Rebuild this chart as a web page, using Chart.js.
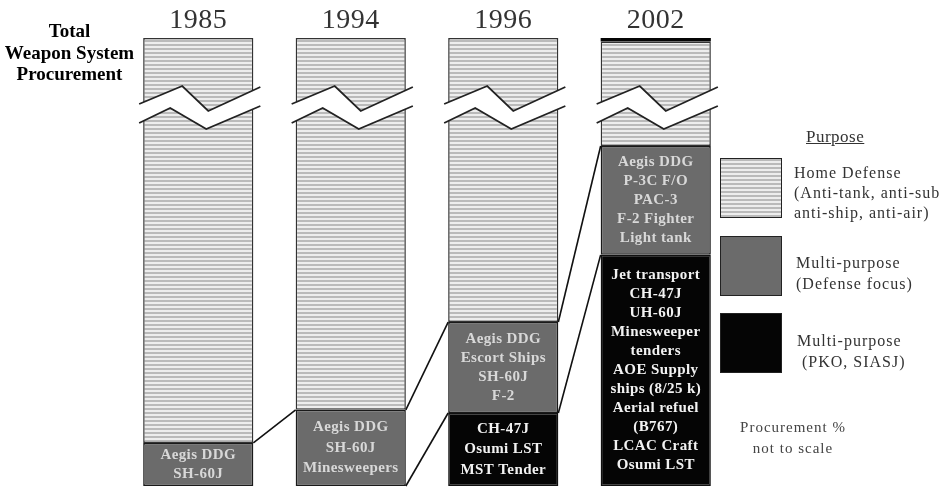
<!DOCTYPE html>
<html><head><meta charset="utf-8">
<script src="https://cdn.jsdelivr.net/npm/chart.js@4"></script>
<style>
html,body{margin:0;padding:0;background:#fff;}
#wrap{position:relative;width:944px;height:490px;overflow:hidden;background:#fff;}
#c{position:absolute;left:0;top:0;}
.t{position:absolute;font-family:"Liberation Serif","Times New Roman",serif;white-space:nowrap;color:#333;}
.box{position:absolute;left:720px;width:60px;height:58px;border:1.5px solid #222;}
</style></head>
<body>
<div id="wrap">
<canvas id="c" width="944" height="490"></canvas>
<div class="t" style="left:0;top:20px;width:139px;text-align:center;font-weight:bold;font-size:19px;line-height:21.5px;color:#000;">Total<br>Weapon System<br>Procurement</div>
<div class="t" style="left:806px;top:127px;font-size:17px;letter-spacing:0.5px;line-height:19px;text-decoration:underline;">Purpose</div>
<div class="box" style="top:158px;background:repeating-linear-gradient(to bottom,#bababa 0px,#bababa 2px,#ededed 2px,#ededed 4px);"></div>
<div class="box" style="top:236px;background:#6b6b6b;"></div>
<div class="box" style="top:313px;background:#050505;"></div>
<div class="t" style="left:794px;top:163px;font-size:16px;letter-spacing:1px;line-height:20px;">Home Defense<br>(Anti-tank, anti-sub<br>anti-ship, anti-air)</div>
<div class="t" style="left:796px;top:252px;font-size:16px;letter-spacing:1px;line-height:21px;">Multi-purpose<br>(Defense focus)</div>
<div class="t" style="left:797px;top:330px;font-size:16px;letter-spacing:1px;line-height:21px;">Multi-purpose<br>&nbsp;(PKO, SIASJ)</div>
<div class="t" style="left:727px;top:417px;width:132px;text-align:center;font-size:15px;letter-spacing:1px;line-height:21px;color:#444;">Procurement %<br>not to scale</div>
</div>
<script>
const categories = ['1985', '1994', '1996', '2002'];
const pkoShare = [0, 0, 16.3, 51.6];
const defenseShare = [9.6, 17.0, 20.3, 24.3];
const homeShare = [90.4, 83.0, 63.4, 23.3];
const topBand = [0, 0, 0, 0.9];
const defenseLabels = [
  ['Aegis DDG', 'SH-60J'],
  ['Aegis DDG', 'SH-60J', 'Minesweepers'],
  ['Aegis DDG', 'Escort Ships', 'SH-60J', 'F-2'],
  ['Aegis DDG', 'P-3C F/O', 'PAC-3', 'F-2 Fighter', 'Light tank']
];
const pkoLabels = [
  [],
  [],
  ['CH-47J', 'Osumi LST', 'MST Tender'],
  ['Jet transport', 'CH-47J', 'UH-60J', 'Minesweeper', 'tenders', 'AOE Supply', 'ships (8/25 k)', 'Aerial refuel', '(B767)', 'LCAC Craft', 'Osumi LST']
];

const pc = document.createElement('canvas');
pc.width = 4; pc.height = 4;
const pctx = pc.getContext('2d');
pctx.fillStyle = '#ededed'; pctx.fillRect(0, 0, 4, 4);
pctx.fillStyle = '#bababa'; pctx.fillRect(0, 0, 4, 2);
const stripe = pctx.createPattern(pc, 'repeat');

const serif = '"Liberation Serif","Times New Roman",serif';

const decor = {
  id: 'decor',
  afterDatasetsDraw(chart) {
    const ctx = chart.ctx;
    const ys = chart.scales.y;
    const ca = chart.chartArea;
    const bars = chart.getDatasetMeta(0).data.map(el => {
      const p = el.getProps(['x', 'width'], true);
      return {l: p.x - p.width / 2, r: p.x + p.width / 2, x: p.x, w: p.width};
    });
    // connecting lines between cumulative levels
    ctx.save();
    ctx.strokeStyle = '#111';
    ctx.lineWidth = 1.6;
    const levels = [pkoShare, pkoShare.map((v, i) => v + defenseShare[i])];
    levels.forEach(cum => {
      for (let i = 0; i < bars.length - 1; i++) {
        if (cum[i] === 0 && cum[i + 1] === 0) continue;
        ctx.beginPath();
        ctx.moveTo(bars[i].r, ys.getPixelForValue(cum[i]));
        ctx.lineTo(bars[i + 1].l, ys.getPixelForValue(cum[i + 1]));
        ctx.stroke();
      }
    });
    ctx.restore();

    // segment labels
    const drawLabels = (dsIndex, labels, color) => {
      chart.getDatasetMeta(dsIndex).data.forEach((el, i) => {
        const lines = labels[i];
        if (!lines.length) return;
        const p = el.getProps(['x', 'y', 'base'], true);
        const cy = (p.y + p.base) / 2;
        const lh = lines.length > 3 ? 19 : (lines.length === 3 ? 20.5 : 19.5);
        ctx.save();
        ctx.fillStyle = color;
        ctx.font = 'bold 15px ' + serif;
        if ('letterSpacing' in ctx) ctx.letterSpacing = '0.4px';
        ctx.textAlign = 'center';
        ctx.textBaseline = 'middle';
        lines.forEach((t, k) => {
          ctx.fillText(t, p.x, cy + (k - (lines.length - 1) / 2) * lh);
        });
        ctx.restore();
      });
    };
    drawLabels(0, pkoLabels, '#f2f2f2');
    drawLabels(1, defenseLabels, '#d8d8d8');

    // axis breaks
    const top = ca.top;
    bars.forEach(b => {
      const f = d => b.l + d * b.w / 110;
      const up = [[f(-4), top + 66], [f(39), top + 48], [f(65), top + 73], [f(117), top + 49]];
      const lo = [[f(-4), top + 85], [f(27), top + 70], [f(63), top + 91], [f(117), top + 68]];
      ctx.save();
      ctx.fillStyle = '#fff';
      ctx.beginPath();
      up.forEach((pt, k) => k ? ctx.lineTo(pt[0], pt[1]) : ctx.moveTo(pt[0], pt[1]));
      lo.slice().reverse().forEach(pt => ctx.lineTo(pt[0], pt[1]));
      ctx.closePath();
      ctx.fill();
      ctx.strokeStyle = '#222';
      ctx.lineWidth = 1.8;
      [up, lo].forEach(line => {
        ctx.beginPath();
        line.forEach((pt, k) => k ? ctx.lineTo(pt[0], pt[1]) : ctx.moveTo(pt[0], pt[1]));
        ctx.stroke();
      });
      ctx.restore();
    });

    // year labels
    ctx.save();
    ctx.fillStyle = '#333';
    ctx.font = '28px ' + serif;
    if ('letterSpacing' in ctx) ctx.letterSpacing = '0.5px';
    ctx.textAlign = 'center';
    ctx.textBaseline = 'middle';
    chart.data.labels.forEach((lab, i) => ctx.fillText(lab, bars[i].x, 21));
    ctx.restore();
  }
};

new Chart(document.getElementById('c'), {
  type: 'bar',
  data: {
    labels: categories,
    datasets: [
      {label: 'Multi-purpose (PKO, SIASJ)', data: pkoShare, backgroundColor: '#050505', borderColor: '#111', borderWidth: 1.5, borderSkipped: false},
      {label: 'Multi-purpose (Defense focus)', data: defenseShare, backgroundColor: '#6b6b6b', borderColor: '#1a1a1a', borderWidth: 1.5, borderSkipped: false},
      {label: 'Home Defense', data: homeShare, backgroundColor: stripe, borderColor: '#333', borderWidth: 1.5, borderSkipped: false},
      {label: 'top', data: topBand, backgroundColor: '#050505', borderColor: '#050505', borderWidth: 0, borderSkipped: false}
    ]
  },
  options: {
    responsive: false,
    animation: false,
    devicePixelRatio: 1,
    layout: {padding: {left: 122, right: 212, top: 38, bottom: 4}},
    datasets: {bar: {categoryPercentage: 1, barPercentage: 0.7225}},
    plugins: {legend: {display: false}, tooltip: {enabled: false}},
    scales: {
      x: {stacked: true, display: false},
      y: {stacked: true, display: false, min: 0, max: 100}
    }
  },
  plugins: [decor]
});
</script>
</body></html>
